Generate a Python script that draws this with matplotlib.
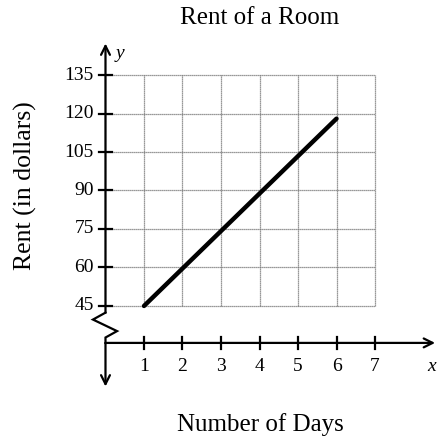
import matplotlib
matplotlib.use("Agg")
from matplotlib import pyplot as plt

# data
days = [1, 2, 3, 4, 5, 6]
rent = [45, 59.6, 74.2, 88.8, 103.4, 118]
x_ticks = [1, 2, 3, 4, 5, 6, 7]
y_ticks = [45, 60, 75, 90, 105, 120, 135]

plt.rcParams['font.family'] = ['Liberation Serif', 'DejaVu Serif']

fig = plt.figure(figsize=(4.37, 4.40), dpi=100)
ax = fig.add_axes([80 / 437, 45 / 440, 357 / 437, 360 / 440])
ax.set_xlim(-0.662, 8.61)
ax.set_ylim(10.3, 150.6)
ax.axis('off')

# grid
for xv in [0] + x_ticks:
    ax.plot([xv, xv], [y_ticks[0], y_ticks[-1]], color='#777777', ls=(0, (1, 0.6)), lw=0.9, zorder=1)
for yv in y_ticks:
    ax.plot([0, x_ticks[-1]], [yv, yv], color='#777777', ls=(0, (1, 0.6)), lw=0.9, zorder=1)

x_axis_y = 30.6
arrow = dict(arrowstyle='->', lw=1.6, color='k', mutation_scale=16, shrinkA=0, shrinkB=0)

# y axis with break
ax.annotate('', xy=(0, 147.3), xytext=(0, 42.4), arrowprops=arrow)
ax.plot([0, -0.325, 0.30, 0, 0], [42.4, 39.7, 35.2, 32.7, x_axis_y], color='k', lw=1.6,
        solid_joinstyle='miter')
ax.annotate('', xy=(0, 13.6), xytext=(0, x_axis_y), arrowprops=arrow)
# x axis
ax.annotate('', xy=(8.56, x_axis_y), xytext=(0, x_axis_y), arrowprops=arrow)

for yv in y_ticks:
    ax.plot([-0.18, 0.18], [yv, yv], color='k', lw=1.6)
    ax.text(-0.3, yv, str(yv), ha='right', va='center', fontsize=14)
for xv in x_ticks:
    ax.plot([xv, xv], [x_axis_y - 2.4, x_axis_y + 2.4], color='k', lw=1.6)
    ax.text(xv, 21.5, str(xv), ha='center', va='center', fontsize=14)

ax.text(0.38, 143.5, 'y', style='italic', fontsize=14, ha='center', va='center')
ax.text(8.48, 21.5, 'x', style='italic', fontsize=14, ha='center', va='center')

# the rent line
ax.plot(days, rent, color='k', lw=3.2, solid_capstyle='round', zorder=3)

fig.text(260 / 437, 1 - 18 / 440, 'Rent of a Room', ha='center', va='center', fontsize=18)
fig.text(260 / 437, 1 - 425 / 440, 'Number of Days', ha='center', va='center', fontsize=18)
fig.text(25 / 437, 1 - 186 / 440, 'Rent (in dollars)', ha='center', va='center',
         rotation=90, fontsize=18.5)

fig.savefig('out.png', dpi=100)
